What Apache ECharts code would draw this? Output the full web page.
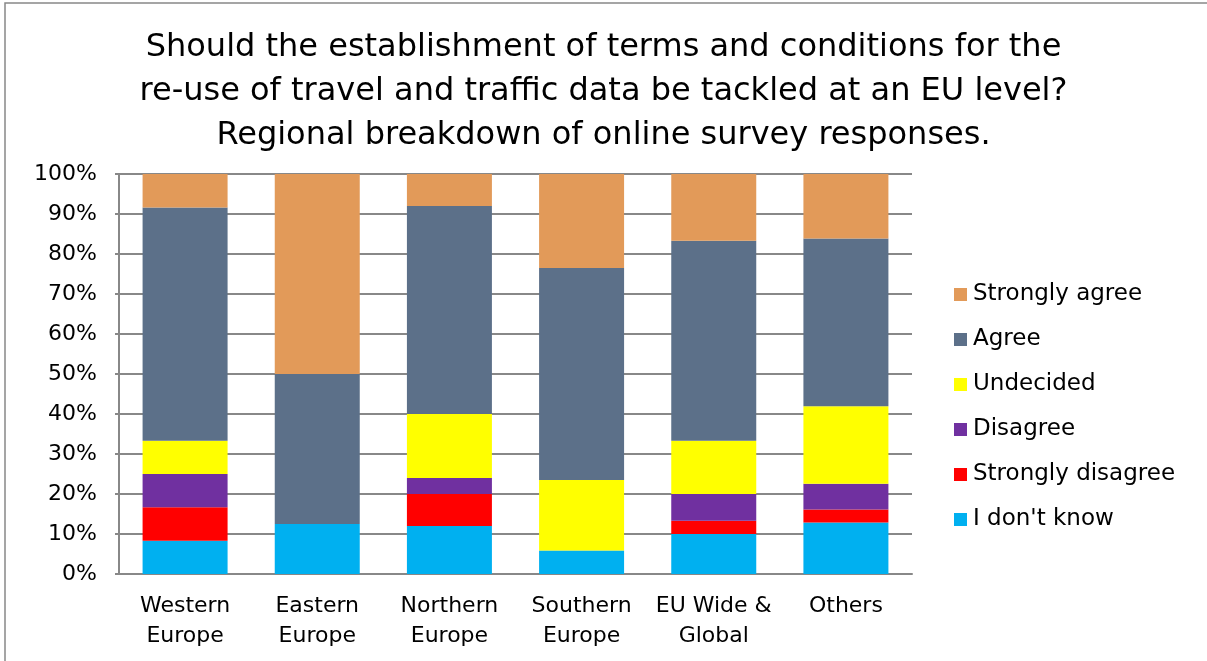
<!DOCTYPE html>
<html><head><meta charset="utf-8">
<script src="https://cdn.jsdelivr.net/npm/echarts@6/dist/echarts.min.js"></script>
<style>html,body{margin:0;padding:0;background:#fff}#c{width:1207px;height:661px}</style>
</head><body><div id="c"></div>
<script>
const categories = ['Western\nEurope','Eastern\nEurope','Northern\nEurope','Southern\nEurope','EU Wide &\nGlobal','Others'];
const dontKnow        = [8.33, 12.5, 12, 5.88, 10, 12.9];
const stronglyDisagree= [8.33, 0, 8, 0, 3.33, 3.23];
const disagree        = [8.33, 0, 4, 0, 6.67, 6.45];
const undecided       = [8.33, 0, 16, 17.65, 13.33, 19.35];
const agree           = [58.33, 37.5, 52, 52.94, 50, 41.94];
const stronglyAgree   = [8.35, 50, 8, 23.53, 16.67, 16.13];
const yTicks = [0,10,20,30,40,50,60,70,80,90,100];

const seriesDefs = [
  ["I don't know", dontKnow, '#00B0F0'],
  ['Strongly disagree', stronglyDisagree, '#FF0000'],
  ['Disagree', disagree, '#7030A0'],
  ['Undecided', undecided, '#FFFF00'],
  ['Agree', agree, '#5C7089'],
  ['Strongly agree', stronglyAgree, '#E29A59']
];
const font = 'DejaVu Sans, Verdana, sans-serif';
const chart = echarts.init(document.getElementById('c'));
chart.setOption({
  animation:false,
  title:{text:'Should the establishment of terms and conditions for the\nre-use of travel and traffic data be tackled at an EU level?\nRegional breakdown of online survey responses.',
    left:'center', top:21,
    textStyle:{fontFamily:font,fontSize:32,fontWeight:'normal',color:'#000',lineHeight:44}},
  graphic:[{type:'rect',shape:{x:5,y:3,width:1210,height:680},style:{fill:'none',stroke:'#888',lineWidth:1.5},silent:true}],
  legend:{orient:'vertical', left:954, top:283, padding:0, itemGap:22, itemWidth:13, itemHeight:13, icon:'rect',
    data:['Strongly agree','Agree','Undecided','Disagree','Strongly disagree',"I don't know"],
    textStyle:{fontFamily:font,fontSize:23,color:'#000',padding:[0,0,0,1]}},
  grid:{left:119, right:295, top:174, bottom:87},
  xAxis:{type:'category', data:categories,
    axisLine:{lineStyle:{color:'#888',width:2}}, axisTick:{show:false},
    axisLabel:{interval:0,fontFamily:font,fontSize:22,color:'#000',lineHeight:30,margin:17}},
  yAxis:{type:'value', min:0, max:100, interval:10,
    axisLine:{show:true,lineStyle:{color:'#888',width:2}},
    axisTick:{show:true,length:4,lineStyle:{color:'#888',width:2}},
    splitLine:{lineStyle:{color:'#888',width:2}},
    axisLabel:{fontFamily:font,fontSize:22,color:'#000',margin:22,formatter:v=>yTicks.includes(v)?v+'%':''}},
  series: seriesDefs.map(([name,data,color])=>({
    name, type:'bar', stack:'all', data, barWidth:85,
    itemStyle:{color}
  }))
});
</script></body></html>
